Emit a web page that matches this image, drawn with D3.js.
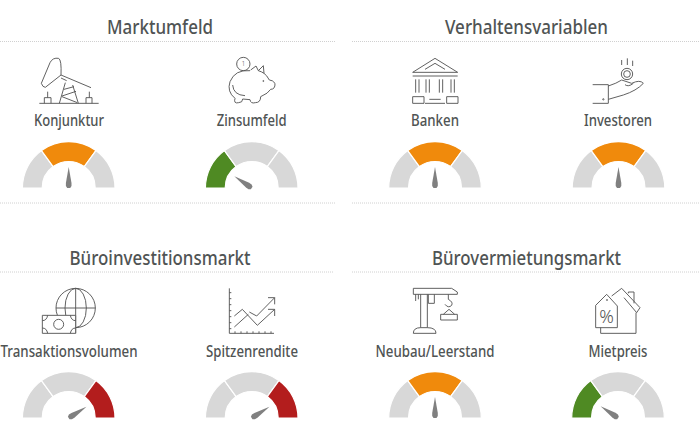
<!DOCTYPE html>
<html><head><meta charset="utf-8">
<script src="https://cdnjs.cloudflare.com/ajax/libs/d3/7.8.5/d3.min.js"></script>
<style>html,body{margin:0;padding:0;background:#fff}svg{display:block}</style></head>
<body><svg id="c" width="700" height="432"></svg>
<script>
// DATA
const groupTitles = ["Marktumfeld","Verhaltensvariablen","Büroinvestitionsmarkt","Bürovermietungsmarkt"];
const indicatorLabels = ["Konjunktur","Zinsumfeld","Banken","Investoren","Transaktionsvolumen","Spitzenrendite","Neubau/Leerstand","Mietpreis"];
const needleValues = [50,19,50,50,82,82,50,19];
const activeSegments = [1,0,1,1,2,2,1,0];
const segmentShares = [30,40,30];
const segmentColors = ["#4f8a23","#f08a0c","#b31d1d"];

// LAYOUT
const titleX=[160,526.5,160,526.5], titleY=[34,34,265,265], titleW=[106,163,181,189];
const gaugeX=[68.7,251.7,435,618.5,68.7,251.7,435,618], gaugeY=[188,188,188,188,418,418,418,418];
const labelX=[69,251.7,435,618,69,252,435,618], labelY=[126,126,126,126,356.5,356.5,356.5,356.5];
const labelW=[70,70,48,68,137,92,119,59];
const rules=[[0,335,41.5],[352,700,41.5],[0,335,203],[352,700,203],[0,334,272],[352,700,272]];
const outerR=46.3, innerR=26.5;
const font="'Noto Sans', 'Open Sans', sans-serif", ink="#505454";

const svg=d3.select("#c");
svg.selectAll("line.rule").data(rules).join("line").attr("class","rule")
  .attr("x1",d=>d[0]).attr("x2",d=>d[1]).attr("y1",d=>d[2]).attr("y2",d=>d[2])
  .attr("stroke","#c4c4c4").attr("stroke-width",0.8).attr("stroke-dasharray","1 1");

svg.selectAll("text.title").data(groupTitles).join("text").attr("class","title")
  .attr("x",(d,i)=>titleX[i]).attr("y",(d,i)=>titleY[i]).attr("text-anchor","middle")
  .attr("font-family",font).attr("font-size",19).attr("font-weight",500).attr("fill",ink)
  .attr("font-variant-ligatures","none")
  .attr("textLength",(d,i)=>titleW[i]).attr("lengthAdjust","spacingAndGlyphs").text(d=>d);
svg.selectAll("text.label").data(indicatorLabels).join("text").attr("class","label")
  .attr("x",(d,i)=>labelX[i]).attr("y",(d,i)=>labelY[i]).attr("text-anchor","middle")
  .attr("font-family",font).attr("font-size",15.5).attr("font-weight",500).attr("fill",ink)
  .attr("font-variant-ligatures","none")
  .attr("textLength",(d,i)=>labelW[i]).attr("lengthAdjust","spacingAndGlyphs").text(d=>d);

// gauges
const pie=d3.pie().sort(null).startAngle(-Math.PI/2).endAngle(Math.PI/2);
const arc=d3.arc().innerRadius(innerR).outerRadius(outerR);
const needleAngle=d3.scaleLinear().domain([0,100]).range([-90,90]);
const needleShape=d3.line().curve(d3.curveLinear);
const needlePts=[[0,-21],[2.8,-5],[2.8,-2],[1.5,0],[-1.5,0],[-2.8,-2],[-2.8,-5]];
indicatorLabels.forEach((l,i)=>{
  const g=svg.append("g").attr("transform",`translate(${gaugeX[i]},${gaugeY[i]})`);
  g.selectAll("path.seg").data(pie(segmentShares)).join("path").attr("class","seg")
    .attr("d",arc)
    .attr("fill",(d,k)=>k===activeSegments[i]?segmentColors[k]:"#d8d8d8")
    .attr("stroke","#fff").attr("stroke-width",1.2);
  g.append("path").attr("d",needleShape(needlePts)+"Z").attr("fill","#808080")
    .attr("transform",`rotate(${needleAngle(needleValues[i])})`);
});

// pictograms, traced in 3x quadrant units
const icons=[
 {o:[0,0],p:[
  "M124,250L150,188Q158,172 176,175Q185,180 183,225L136,262Q128,262 124,250Z",
  "M183,225L273,263","M183,234L200,242",
  "M178,310L196,248M235,310L218,255M192,268L222,260M186,288L228,274M186,290L232,308",
  "M118,310H296","M133,310V293H153V310M143,293V275","M258,310V293H276V310M268,293V275"]},
 {o:[0,0],p:[
  "M750,212Q705,208 690,245Q680,275 705,295Q700,312 716,308Q728,308 728,297L750,299Q752,312 766,308Q782,308 782,290Q805,280 812,268Q826,268 825,250Q818,240 808,240Q800,225 792,220L790,197L775,212L768,198L752,210",
  "M698,255Q700,285 735,287","M775,212Q785,215 792,220"],
  c:[[730,192,20],[790,243,1.5]],t:[[730,199,"1",20]]},
 {o:[350,0],p:[
  "M188,217L255,175L323,217ZM225,208L255,190L285,208","M188,228H323",
  "M197,238V278M207,238V278M228,238V278M238,238V278M268,238V278M278,238V278M303,238V278M313,238V278",
  "M188,290H222V310H188ZM290,290H324V310H290ZM225,310H285M238,298H272"]},
 {o:[350,0],p:[
  "M815,180V195M832,175V195M848,182V198","M728,254H775V310H728",
  "M775,258Q800,250 815,240L845,250Q870,238 880,250Q860,272 820,285L775,298",
  "M825,254Q835,262 850,250"],
  c:[[831,222,17],[831,222,10],[760,298,2]]},
 {o:[0,216],p:[
  "M227,217V352M168,276H286","M227,217A32,59 0 0 0 227,335A32,59 0 0 0 227,217"],
  c:[[227,276,59]],
  after:["M127,298H227V352H127ZM127,314Q140,314 143,298M211,298Q214,314 227,314M127,336Q140,336 143,352M211,352Q214,336 227,336"],
  c2:[[176,325,15]]},
 {o:[0,216],p:[
  "M688,217V352H822","M688,230H694M688,248H694M688,266H694M688,284H694M688,302H694M688,320H694M688,338H694",
  "M705,352V346M723,352V346M741,352V346M759,352V346M777,352V346M795,352V346M813,352V346",
  "M703,300L727,280L772,328L824,280M804,280H824V300",
  "M703,333L745,295M748,288L770,300L824,245M804,245H824V265"]},
 {o:[350,216],p:[
  "M190,217H305L322,228V235H190ZM197,235V255M205,235V250",
  "M212,235V335M232,235V335M190,352Q190,335 212,335H232Q258,335 258,352Z",
  "M235,235V262H253V235","M295,235V250Q310,258 305,268Q295,278 285,265",
  "M272,312V295H322V312ZM280,295L297,280L314,295"]},
 {o:[350,216],p:[
  "M737,268L770,235L802,270V335H737Z","M785,240L815,217L870,275L860,290L822,245",
  "M835,232V228H852V262","M858,290V352H752V335"],
  c:[[771,252,1.5]],t:[[770,322,"%",54]]}
];
icons.forEach(ic=>{
  const g=svg.append("g").attr("transform",`translate(${ic.o[0]},${ic.o[1]}) scale(${1/3})`)
    .attr("fill","none").attr("stroke","#555").attr("stroke-width",2.8).attr("stroke-linejoin","round");
  (ic.c||[]).forEach(c=>g.append("circle").attr("cx",c[0]).attr("cy",c[1]).attr("r",c[2]));
  (ic.p||[]).forEach(p=>g.append("path").attr("d",p));
  (ic.after||[]).forEach(p=>g.append("path").attr("d",p).attr("fill","#fff"));
  (ic.c2||[]).forEach(c=>g.append("circle").attr("cx",c[0]).attr("cy",c[1]).attr("r",c[2]));
  (ic.t||[]).forEach(t=>g.append("text").attr("x",t[0]).attr("y",t[1]).attr("text-anchor","middle")
    .attr("font-family",font).attr("font-size",t[3]).attr("font-weight",300).attr("fill","#555").attr("stroke","none").text(t[2]));
});
</script></body></html>
